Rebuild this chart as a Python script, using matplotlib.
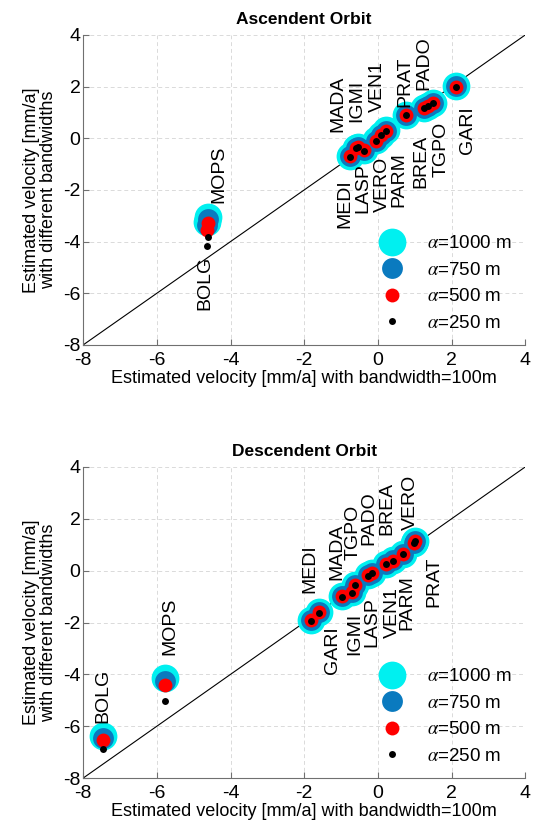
import matplotlib
matplotlib.use('Agg')
import matplotlib.pyplot as plt
from matplotlib.lines import Line2D

plt.rcParams['font.family'] = ['Liberation Sans', 'DejaVu Sans']
plt.rcParams['mathtext.fontset'] = 'stix'
plt.rcParams['axes.unicode_minus'] = False

# station names (same order for both orbits)
stations = ['MEDI', 'MADA', 'IGMI', 'LASP', 'VERO', 'VEN1', 'PARM',
            'PRAT', 'PADO', 'BREA', 'TGPO', 'GARI', 'MOPS', 'BOLG']

# ascending orbit: velocity with 100 m bandwidth (x) and other bandwidths (y)
asc_v100 = [-0.76, -0.60, -0.55, -0.39, -0.05, 0.08, 0.22,
            0.77, 1.24, 1.37, 1.51, 2.11, -4.62, -4.65]
asc_v250 = [-0.71, -0.38, -0.33, -0.48, -0.10, 0.13, 0.30,
            0.90, 1.16, 1.26, 1.36, 2.00, -3.81, -4.16]
asc_v500 = [-0.70, -0.37, -0.33, -0.47, -0.09, 0.13, 0.30,
            0.90, 1.16, 1.25, 1.36, 2.00, -3.28, -3.54]
asc_v750 = [-0.69, -0.37, -0.32, -0.46, -0.09, 0.14, 0.30,
            0.91, 1.16, 1.25, 1.36, 2.01, -3.11, -3.35]
asc_v1000 = [-0.68, -0.36, -0.32, -0.46, -0.08, 0.14, 0.31,
             0.91, 1.17, 1.25, 1.37, 2.01, -3.06, -3.25]

# descending orbit
des_v100 = [-1.82, -0.98, -0.71, -0.26, 1.01, 0.22, 0.69,
            0.97, -0.17, 0.42, -0.62, -1.59, -5.77, -7.46]
des_v250 = [-1.93, -1.00, -0.85, -0.19, 1.14, 0.26, 0.64,
            1.07, -0.10, 0.39, -0.55, -1.62, -5.03, -6.88]
des_v500 = [-1.92, -0.99, -0.84, -0.18, 1.14, 0.26, 0.64,
            1.07, -0.10, 0.39, -0.55, -1.61, -4.40, -6.52]
des_v750 = [-1.91, -0.99, -0.84, -0.18, 1.15, 0.27, 0.65,
            1.08, -0.09, 0.40, -0.54, -1.61, -4.25, -6.44]
des_v1000 = [-1.91, -0.98, -0.83, -0.17, 1.15, 0.27, 0.65,
             1.08, -0.09, 0.40, -0.54, -1.60, -4.15, -6.38]

# label placement: offset in pixels from the 250 m point, + means above
asc_label_off = {'MEDI': (-5, -23), 'MADA': (-18, 16), 'IGMI': (-1, 25),
                 'LASP': (-1, -12), 'VERO': (6, -16), 'VEN1': (-3, 23),
                 'PARM': (13, -22), 'PRAT': (-1, 8), 'PADO': (0, 18),
                 'BREA': (-7, -29), 'TGPO': (8, -19), 'GARI': (12, -20),
                 'MOPS': (11, 34), 'BOLG': (-2, -10)}
des_label_off = {'MEDI': (-1, 28), 'GARI': (13, -14), 'MADA': (-5, 17),
                 'IGMI': (3, -20), 'TGPO': (-2, 25), 'LASP': (4, -22),
                 'PADO': (-3, 28), 'VEN1': (6, -23), 'BREA': (-6, 26),
                 'PARM': (4, -21), 'VERO': (-5, 11), 'PRAT': (20, -14),
                 'MOPS': (5, 46), 'BOLG': (0, 26)}

alphas = ['1000', '750', '500', '250']
colors = ['#00f0f0', '#0a7abf', '#ff0000', '#000000']
msizes = [20, 15, 10, 5]


def draw_panel(ax, x, ys, offsets, title):
    ax.plot([-8, 4], [-8, 4], color='black', lw=0.8, zorder=1)
    for y, c, ms in zip(ys, colors, msizes):
        ax.plot(x, y, 'o', color=c, ms=ms, mec='none', ls='none', zorder=2)
    for name, xi, yi in zip(stations, x, ys[-1]):
        dx, dy = offsets[name]
        ax.annotate(name, (xi, yi), xytext=(dx, dy), textcoords='offset pixels',
                    rotation=90, ha='center', va='bottom' if dy > 0 else 'top',
                    fontsize=14, zorder=3)
    ax.set_xlim(-8, 4)
    ax.set_ylim(-8, 4)
    ax.set_xticks(range(-8, 5, 2))
    ax.set_yticks(range(-8, 5, 2))
    ax.grid(True, ls=(0, (4, 3)), color='#dadada', lw=0.7)
    ax.set_axisbelow(True)
    for s in ['top', 'right']:
        ax.spines[s].set_visible(False)
    for s in ['left', 'bottom']:
        ax.spines[s].set_color('#707070')
    ax.tick_params(direction='in', length=4, labelsize=14, colors='#707070',
                   labelcolor='black', pad=2)
    ax.tick_params(axis='x', pad=5)
    ax.set_title(title, fontsize=12.5, fontweight='bold', pad=8)
    ax.set_xlabel('Estimated velocity [mm/a] with bandwidth=100m', fontsize=13, labelpad=1)
    ax.set_ylabel('Estimated velocity [mm/a]\nwith different bandwidths', fontsize=13,
                  linespacing=1.0, labelpad=4)
    handles = [Line2D([], [], marker='o', ls='none', color=c, mec='none', ms=ms)
               for c, ms in zip(colors, msizes)]
    labels = [r'$\alpha$=%s m' % a for a in alphas]
    ax.legend(handles, labels, loc='lower right', bbox_to_anchor=(1.0, 0.0),
              frameon=False, fontsize=13.5, labelspacing=0.5, handletextpad=0.9,
              borderaxespad=0.3)


fig = plt.figure(figsize=(5.37, 8.33), dpi=100)
ax1 = fig.add_axes([0.155, 0.586, 0.823, 0.372])
ax2 = fig.add_axes([0.155, 0.066, 0.823, 0.3734])

draw_panel(ax1, asc_v100, [asc_v1000, asc_v750, asc_v500, asc_v250],
           asc_label_off, 'Ascendent Orbit')
draw_panel(ax2, des_v100, [des_v1000, des_v750, des_v500, des_v250],
           des_label_off, 'Descendent Orbit')

fig.savefig('out.png', dpi=100)
